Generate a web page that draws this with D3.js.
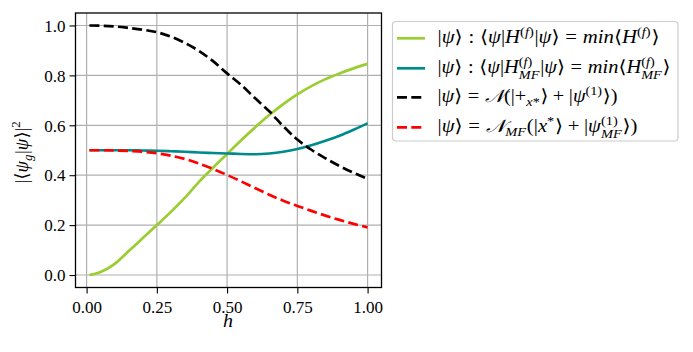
<!DOCTYPE html>
<html>
<head>
<meta charset="utf-8">
<script src="https://cdn.jsdelivr.net/npm/d3@7"></script>
<style>
  html, body { margin: 0; padding: 0; background: #fff; }
  svg { display: block; }
</style>
</head>
<body>
<svg id="chart" width="693" height="352"></svg>
<script>
// ---- data ----
const hValues = [0.01, 0.05, 0.1, 0.15, 0.2, 0.25, 0.3, 0.35, 0.4, 0.45, 0.5,
                 0.55, 0.6, 0.65, 0.7, 0.75, 0.8, 0.85, 0.9, 0.95, 1.0];
const groundFull = [0.0, 0.012, 0.045, 0.096, 0.148, 0.2, 0.253, 0.31, 0.373, 0.43, 0.485,
                    0.54, 0.592, 0.641, 0.685, 0.724, 0.757, 0.785, 0.808, 0.828, 0.846];
const groundMF = [0.5, 0.5, 0.5, 0.5, 0.499, 0.498, 0.496, 0.494, 0.491, 0.489, 0.487,
                  0.485, 0.484, 0.487, 0.494, 0.505, 0.52, 0.538, 0.558, 0.582, 0.608];
const pertFull = [1.0, 0.999, 0.996, 0.99, 0.983, 0.973, 0.955, 0.93, 0.898, 0.857, 0.808,
                  0.762, 0.708, 0.656, 0.596, 0.543, 0.502, 0.468, 0.437, 0.41, 0.385];
const pertMF = [0.5, 0.5, 0.499, 0.497, 0.494, 0.488, 0.478, 0.465, 0.447, 0.425, 0.401,
                0.375, 0.348, 0.322, 0.298, 0.277, 0.257, 0.238, 0.221, 0.205, 0.191];
const xTicks = [0, 0.25, 0.5, 0.75, 1.0];
const xTickLabels = ["0.00", "0.25", "0.50", "0.75", "1.00"];
const yTicks = [0, 0.2, 0.4, 0.6, 0.8, 1.0];
const yTickLabels = ["0.0", "0.2", "0.4", "0.6", "0.8", "1.0"];
const seriesColors = ["#9acd32", "#008b8b", "#000000", "#ff0000"];
const seriesDashed = [false, false, true, true];

// ---- layout ----
const svg = d3.select("#chart");
const FONT = "'Liberation Serif', 'DejaVu Serif', serif";
const FS = 17;
const x = d3.scaleLinear().domain([-0.0395, 1.0495]).range([75.5, 381.5]);
const y = d3.scaleLinear().domain([-0.05, 1.05]).range([287.5, 13]);

// grid
const gGrid = svg.append("g");
gGrid.selectAll("line.vx").data(xTicks).join("line")
  .attr("x1", d => x(d)).attr("x2", d => x(d))
  .attr("y1", y.range()[1]).attr("y2", y.range()[0])
  .attr("stroke", "#b0b0b0").attr("stroke-width", 1.2);
gGrid.selectAll("line.hy").data(yTicks).join("line")
  .attr("y1", d => y(d)).attr("y2", d => y(d))
  .attr("x1", x.range()[0]).attr("x2", x.range()[1])
  .attr("stroke", "#b0b0b0").attr("stroke-width", 1.2);

// lines
const allSeries = [groundFull, groundMF, pertFull, pertMF];
const line = d3.line().x((d, i) => x(hValues[i])).y(d => y(d)).curve(d3.curveMonotoneX);
const gLines = svg.append("g");
allSeries.forEach((s, k) => {
  gLines.append("path").datum(s)
    .attr("d", line)
    .attr("fill", "none")
    .attr("stroke", seriesColors[k])
    .attr("stroke-width", 2.7)
    .attr("stroke-dasharray", seriesDashed[k] ? "10,4.3" : null);
});

// axes
const xAxis = d3.axisBottom(x).tickValues(xTicks).tickFormat((d, i) => xTickLabels[i])
  .tickSizeInner(6).tickSizeOuter(0).tickPadding(6);
const yAxis = d3.axisLeft(y).tickValues(yTicks).tickFormat((d, i) => yTickLabels[i])
  .tickSizeInner(6).tickSizeOuter(0).tickPadding(4);
const gx = svg.append("g").attr("transform", `translate(0,${y.range()[0]})`).call(xAxis);
const gy = svg.append("g").attr("transform", `translate(${x.range()[0]},0)`).call(yAxis);
[gx, gy].forEach(g => {
  g.select(".domain").remove();
  g.selectAll(".tick line").attr("stroke", "#000").attr("stroke-width", 1.1);
  g.selectAll(".tick text").attr("font-family", FONT).attr("font-size", FS).attr("fill", "#000");
});
gx.selectAll(".tick text").attr("dy", "0.78em");
gy.selectAll(".tick text").attr("dy", "0.34em");

// frame
svg.append("rect")
  .attr("x", x.range()[0]).attr("y", y.range()[1])
  .attr("width", x.range()[1] - x.range()[0]).attr("height", y.range()[0] - y.range()[1])
  .attr("fill", "none").attr("stroke", "#000").attr("stroke-width", 1.3);

// ---- tiny math layout: one <text> per formula, tspans placed absolutely ----
function mathText(parent, tokens, x0, y0, size, targetW, anchorMid) {
  const tmp = parent.append("text").attr("font-family", FONT);
  function measure(s, sz, it) {
    tmp.attr("font-size", sz).attr("font-style", it ? "italic" : "normal").text(s);
    return tmp.node().getComputedTextLength();
  }
  const pieces = [];
  let cx = 0;
  tokens.forEach(tk => {
    if (tk.gap !== undefined) { cx += tk.gap * size; return; }
    if (tk.sup || tk.sub) {
      const ss = size * 0.7;
      let w1 = 0, w2 = 0;
      if (tk.sup) {
        let xx = cx;
        tk.sup.forEach(p => { pieces.push({ s: p.s, x: xx, y: -size * 0.42, sz: ss, it: p.it }); xx += measure(p.s, ss, p.it); });
        w1 = xx - cx;
      }
      if (tk.sub) {
        let xx = cx;
        tk.sub.forEach(p => { pieces.push({ s: p.s, x: xx, y: size * (tk.sup ? 0.3 : 0.22), sz: ss, it: p.it }); xx += measure(p.s, ss, p.it); });
        w2 = xx - cx;
      }
      cx += Math.max(w1, w2) + 0.6;
      return;
    }
    pieces.push({ s: tk.s, x: cx, y: 0, sz: size, it: tk.it });
    cx += measure(tk.s, size, tk.it);
  });
  tmp.remove();
  const sx = targetW ? targetW / cx : 1;
  const shift = anchorMid ? -targetW / 2 : 0;
  const t = parent.append("text")
    .attr("transform", `translate(${x0 + shift},${y0}) scale(${sx},1)`)
    .attr("font-family", FONT).attr("fill", "#000");
  pieces.forEach(p => {
    t.append("tspan").attr("x", p.x).attr("y", p.y)
      .attr("font-size", p.sz).attr("font-style", p.it ? "italic" : "normal").text(p.s);
  });
  return t;
}
const R = s => ({ s, it: false });
const I = s => ({ s, it: true });
const G = v => ({ gap: v });
const supF = [R("("), I("f"), R(")")];
const subMF = [I("M"), I("F")];
const REL = 0.2778, BIN = 0.2222;

const legendItems = [
  [R("|"), I("ψ"), R("⟩"), G(REL), R(":"), G(REL), R("⟨"), I("ψ"), R("|"), I("H"), { sup: supF }, R("|"), I("ψ"), R("⟩"),
   G(REL), R("="), G(REL), I("min"), R("⟨"), I("H"), { sup: supF }, R("⟩")],
  [R("|"), I("ψ"), R("⟩"), G(REL), R(":"), G(REL), R("⟨"), I("ψ"), R("|"), I("H"), { sup: supF, sub: subMF }, R("|"), I("ψ"), R("⟩"),
   G(REL), R("="), G(REL), I("min"), R("⟨"), I("H"), { sup: supF, sub: subMF }, R("⟩")],
  [R("|"), I("ψ"), R("⟩"), G(REL), R("="), G(REL), I("𝒩"), R("(|+"), { sub: [I("x"), R("*")] }, R("⟩"), G(BIN), R("+"), G(BIN),
   R("|"), I("ψ"), { sup: [R("(1)")] }, R("⟩)")],
  [R("|"), I("ψ"), R("⟩"), G(REL), R("="), G(REL), I("𝒩"), { sub: subMF }, R("(|"), I("x"), { sup: [R("*")] }, R("⟩"), G(BIN), R("+"), G(BIN),
   R("|"), I("ψ"), { sup: [R("(1)")], sub: subMF }, R("⟩)")]
];
const legendWidths = [222, 233, 180, 200];

// legend
const legY = [38.3, 68.3, 97.3, 127.3];
const gLeg = svg.append("g");
gLeg.append("rect").attr("x", 392.5).attr("y", 21.5).attr("width", 285.5).attr("height", 119.5)
  .attr("rx", 3.5).attr("fill", "#fff").attr("fill-opacity", 0.8)
  .attr("stroke", "#cccccc").attr("stroke-width", 1.2);
legendItems.forEach((toks, k) => {
  gLeg.append("line").attr("x1", 397).attr("x2", 425).attr("y1", legY[k]).attr("y2", legY[k])
    .attr("stroke", seriesColors[k]).attr("stroke-width", 2.7)
    .attr("stroke-dasharray", seriesDashed[k] ? "10,4.3" : null);
  mathText(gLeg, toks, 437.5, legY[k] + 5, 18, legendWidths[k]);
});

// axis labels
mathText(svg, [I("h")], 228, 327, 18, 10, true);
const yl = svg.append("g").attr("transform", "translate(28,152) rotate(-90)");
mathText(yl, [R("|⟨"), I("ψ"), { sub: [I("g")] }, R("|"), I("ψ"), R("⟩|"), { sup: [R("2")] }], 0, 0, 18, 63, true);
</script>
</body>
</html>
